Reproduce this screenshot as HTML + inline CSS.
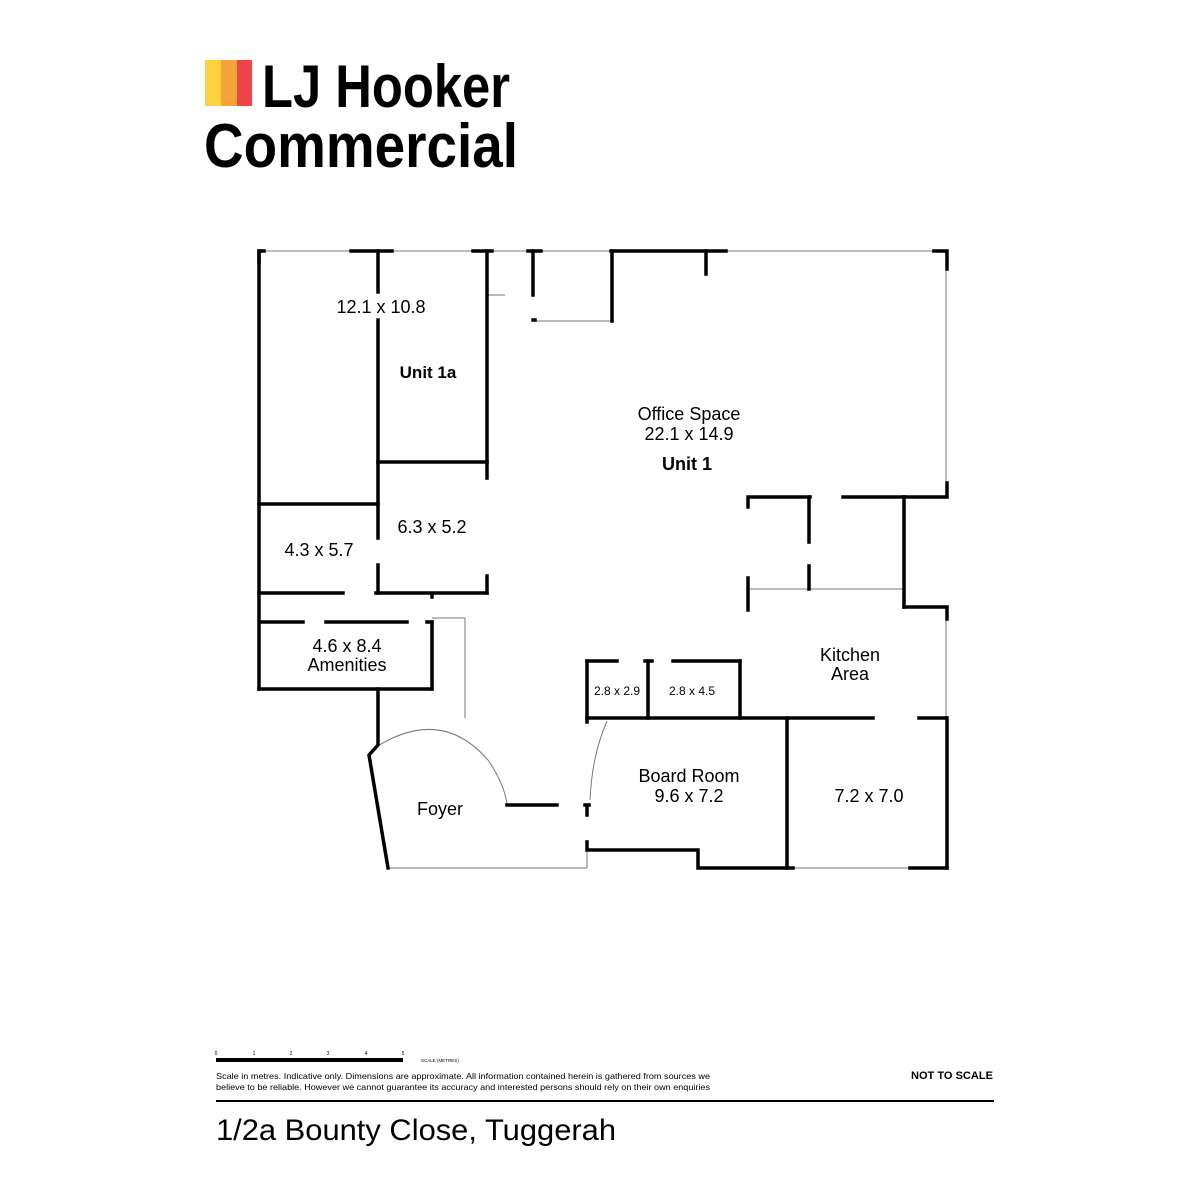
<!DOCTYPE html>
<html><head><meta charset="utf-8"><style>
html,body{margin:0;padding:0;background:#fff}
body{width:1200px;height:1200px;position:relative;overflow:hidden;font-family:"Liberation Sans",sans-serif}
</style></head><body>
<svg width="1200" height="1200" viewBox="0 0 1200 1200" xmlns="http://www.w3.org/2000/svg" style="position:absolute;left:0;top:0">
<rect x="205" y="60" width="16" height="46" fill="#FDD23C"/>
<rect x="221" y="60" width="16" height="46" fill="#F7A33B"/>
<rect x="237" y="60" width="15" height="46" fill="#EE4449"/>
<text x="262" y="107" font-family="Liberation Sans, sans-serif" font-weight="bold" font-size="60" fill="#000" textLength="248" lengthAdjust="spacingAndGlyphs">LJ Hooker</text>
<text x="204" y="167" font-family="Liberation Sans, sans-serif" font-weight="bold" font-size="62" fill="#000" textLength="314" lengthAdjust="spacingAndGlyphs">Commercial</text>

<g stroke="#777" stroke-width="1" fill="none">
<line x1="259" y1="251" x2="946" y2="251"/>
<line x1="946" y1="251" x2="946" y2="497"/>
<line x1="946" y1="607" x2="946" y2="718"/>
<line x1="487" y1="295" x2="505" y2="295"/>
<line x1="536" y1="321" x2="612" y2="321"/>
<line x1="432" y1="618" x2="465" y2="618"/>
<line x1="465" y1="618" x2="465" y2="718"/>
<line x1="388" y1="868" x2="587" y2="868"/>
<line x1="587" y1="840" x2="587" y2="868"/>
<line x1="750" y1="589" x2="904" y2="589"/>
<line x1="793" y1="868" x2="910" y2="868"/>
<path d="M373 749 Q440 705 488 760 Q505 785 507 805"/>
<path d="M607 721 Q592 755 590 800"/>
</g>

<g stroke="#000" stroke-width="3.5" fill="none" stroke-linecap="square">
<polyline points="259,262 259,251 264,251"/>
<line x1="259" y1="251" x2="259" y2="689"/>
<line x1="259" y1="689" x2="432" y2="689"/>
<line x1="432" y1="622" x2="432" y2="689"/>
<line x1="351" y1="251" x2="392" y2="251"/>
<line x1="378" y1="251" x2="378" y2="292"/>
<line x1="378" y1="320" x2="378" y2="462"/>
<line x1="378" y1="462" x2="487" y2="462"/>
<line x1="473" y1="251" x2="492" y2="251"/>
<line x1="487" y1="251" x2="487" y2="478"/>
<line x1="528" y1="251" x2="541" y2="251"/>
<line x1="533" y1="251" x2="533" y2="295"/>
<line x1="533" y1="320" x2="535" y2="320"/>
<line x1="611" y1="251" x2="726" y2="251"/>
<line x1="612" y1="251" x2="612" y2="321"/>
<line x1="706" y1="251" x2="706" y2="274"/>
<polyline points="934,251 947,251 947,269"/>
<polyline points="947,483 947,497 904,497"/>
<line x1="843" y1="497" x2="904" y2="497"/>
<line x1="904" y1="497" x2="904" y2="607"/>
<polyline points="904,607 947,607 947,619"/>
<line x1="947" y1="718" x2="947" y2="868"/>
<line x1="910" y1="868" x2="947" y2="868"/>
<line x1="259" y1="504" x2="378" y2="504"/>
<line x1="378" y1="462" x2="378" y2="538"/>
<line x1="378" y1="565" x2="378" y2="593"/>
<line x1="259" y1="593" x2="343" y2="593"/>
<line x1="376" y1="593" x2="487" y2="593"/>
<line x1="487" y1="576" x2="487" y2="593"/>
<line x1="262" y1="622" x2="303" y2="622"/>
<line x1="326" y1="622" x2="407" y2="622"/>
<line x1="427" y1="622" x2="432" y2="622"/>
<line x1="432" y1="595" x2="432" y2="597"/>
<polyline points="378,689 378,745 369,755 388,868"/>
<line x1="507" y1="805" x2="557" y2="805"/>
<line x1="587" y1="805" x2="587" y2="815"/>
<line x1="585" y1="805" x2="589" y2="805"/>
<line x1="587" y1="661" x2="587" y2="722"/>
<line x1="587" y1="661" x2="617" y2="661"/>
<line x1="645" y1="661" x2="652" y2="661"/>
<line x1="673" y1="661" x2="740" y2="661"/>
<line x1="648" y1="661" x2="648" y2="718"/>
<line x1="740" y1="661" x2="740" y2="718"/>
<line x1="587" y1="718" x2="873" y2="718"/>
<line x1="919" y1="718" x2="946" y2="718"/>
<line x1="787" y1="718" x2="787" y2="868"/>
<polyline points="587,842 587,850 698,850 698,868 793,868"/>
<polyline points="748,507 748,497 810,497"/>
<line x1="809" y1="497" x2="809" y2="542"/>
<line x1="809" y1="566" x2="809" y2="589"/>
<line x1="748" y1="578" x2="748" y2="610"/>
</g>

<g font-family="Liberation Sans, sans-serif" fill="#000" text-anchor="middle">
<text x="381" y="313" font-size="18">12.1 x 10.8</text>
<text x="428" y="378" font-size="17" font-weight="bold">Unit 1a</text>
<text x="689" y="420" font-size="18">Office Space</text>
<text x="689" y="440" font-size="18">22.1 x 14.9</text>
<text x="687" y="470" font-size="18" font-weight="bold">Unit 1</text>
<text x="432" y="533" font-size="18">6.3 x 5.2</text>
<text x="319" y="556" font-size="18">4.3 x 5.7</text>
<text x="347" y="652" font-size="18">4.6 x 8.4</text>
<text x="347" y="671" font-size="18">Amenities</text>
<text x="850" y="661" font-size="18">Kitchen</text>
<text x="850" y="680" font-size="18">Area</text>
<text x="617" y="695" font-size="12">2.8 x 2.9</text>
<text x="692" y="695" font-size="12">2.8 x 4.5</text>
<text x="689" y="782" font-size="18">Board Room</text>
<text x="689" y="802" font-size="18">9.6 x 7.2</text>
<text x="869" y="802" font-size="18">7.2 x 7.0</text>
<text x="440" y="815" font-size="18">Foyer</text>
</g>

<line x1="216" y1="1060" x2="403" y2="1060" stroke="#000" stroke-width="4"/>
<g font-family="Liberation Sans, sans-serif" font-size="5" fill="#000" text-anchor="middle">
<text x="216" y="1055">0</text><text x="254" y="1055">1</text><text x="291" y="1055">2</text><text x="328" y="1055">3</text><text x="366" y="1055">4</text><text x="403" y="1055">5</text>
</g>
<text x="421" y="1062" font-family="Liberation Sans, sans-serif" font-size="4.5" fill="#000">SCALE (METRES)</text>
<text x="216" y="1079" font-family="Liberation Sans, sans-serif" font-size="8.5" fill="#000" textLength="494" lengthAdjust="spacingAndGlyphs">Scale in metres. Indicative only. Dimensions are approximate. All information contained herein is gathered from sources we</text>
<text x="216" y="1090" font-family="Liberation Sans, sans-serif" font-size="8.5" fill="#000" textLength="494" lengthAdjust="spacingAndGlyphs">believe to be reliable. However we cannot guarantee its accuracy and interested persons should rely on their own enquiries</text>
<text x="911" y="1079" font-family="Liberation Sans, sans-serif" font-size="11" font-weight="bold" fill="#000" textLength="82" lengthAdjust="spacingAndGlyphs">NOT TO SCALE</text>
<line x1="216" y1="1101" x2="994" y2="1101" stroke="#000" stroke-width="2"/>
<text x="216" y="1140" font-family="Liberation Sans, sans-serif" font-size="30" fill="#000" textLength="400" lengthAdjust="spacingAndGlyphs">1/2a Bounty Close, Tuggerah</text>
</svg>
</body></html>
